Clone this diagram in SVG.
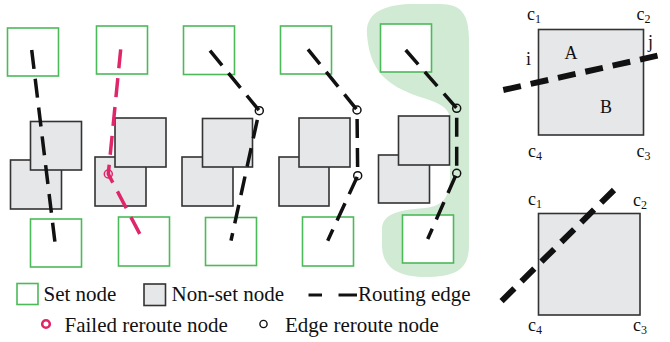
<svg xmlns="http://www.w3.org/2000/svg" width="670" height="342" viewBox="0 0 670 342">
<style>
.set{fill:#fff;stroke:#4dba5a;stroke-width:1.6}
.non{fill:#e6e7e8;stroke:#333;stroke-width:1.6}
.edge{fill:none;stroke:#111;stroke-width:3.5;stroke-dasharray:19 10}
.fail{fill:none;stroke:#e0266a;stroke-width:3.5;stroke-dasharray:19 10}
.rr{fill:none;stroke:#111;stroke-width:1.5}
.big{fill:none;stroke:#111;stroke-width:6;stroke-dasharray:18 10}
text{font-family:'Liberation Serif','Times New Roman',Times,serif;fill:#111}
.lg{font-size:21px}
.lb{font-size:18px}
.sub{font-size:12px}
</style>
<rect width="670" height="342" fill="#fff"/>
<g id="hull">
<path d="M367,35 C365,12 385,4 415,4 L440,4 C462,4 469,15 469,40 L469,245 C469,268 458,277 425,277 C395,277 382,265 382,245 L382,230 C382,215 395,210 425,208 C445,206 450,195 450,175 L450,120 C450,108 440,103 420,97 C385,85 370,70 367,35 Z" fill="#d0ead4"/>
</g>
<g id="panel1">
<rect id="p1-set-top" class="set" x="7.5" y="28" width="51" height="48"/>
<rect id="p1-non-back" class="non" x="10.5" y="160" width="51" height="49"/>
<rect id="p1-non-front" class="non" x="30.5" y="121.5" width="51" height="48.5"/>
<rect id="p1-set-bottom" class="set" x="30.5" y="219" width="51" height="48"/>
</g>
<g id="panel2">
<rect id="p2-set-top" class="set" x="96.5" y="26" width="51" height="48"/>
<rect id="p2-non-back" class="non" x="95" y="157" width="51" height="49"/>
<rect id="p2-non-front" class="non" x="115" y="118" width="51" height="49"/>
<rect id="p2-set-bottom" class="set" x="118.5" y="217" width="51" height="49"/>
</g>
<g id="panel3">
<rect id="p3-set-top" class="set" x="183.5" y="26" width="51" height="48.5"/>
<rect id="p3-non-back" class="non" x="182" y="157" width="51" height="49"/>
<rect id="p3-non-front" class="non" x="202.5" y="118.5" width="50" height="48.5"/>
<rect id="p3-set-bottom" class="set" x="205.5" y="217.5" width="51" height="48"/>
</g>
<g id="panel4">
<rect id="p4-set-top" class="set" x="280.5" y="26" width="51" height="48"/>
<rect id="p4-non-back" class="non" x="279" y="157" width="50" height="49"/>
<rect id="p4-non-front" class="non" x="299" y="118" width="51" height="49"/>
<rect id="p4-set-bottom" class="set" x="302.5" y="217" width="51" height="49"/>
</g>
<g id="panel5">
<rect id="p5-set-top" class="set" x="380.5" y="24" width="51" height="48"/>
<rect id="p5-non-back" class="non" x="378.5" y="155" width="51" height="48"/>
<rect id="p5-non-front" class="non" x="398.5" y="116" width="51" height="49"/>
<rect id="p5-set-bottom" class="set" x="402.5" y="215" width="51" height="48"/>
</g>
<g id="connectors">
<path class="edge" d="M31.7,50 L55,242.7"/>
<path class="fail" d="M120.7,49.3 L108.3,174 L143.3,240.7"/>
<circle cx="108.3" cy="174" r="4" fill="none" stroke="#e0266a" stroke-width="1.5"/>
<path class="edge" d="M210,50.7 L259.3,110.7 L231,240.7"/>
<circle class="rr" cx="259.3" cy="110.7" r="4"/>
<path class="edge" d="M308,49.3 L357,110 L357.7,175.7 L327.7,240.7"/>
<circle class="rr" cx="357" cy="110" r="4"/>
<circle class="rr" cx="357.7" cy="175.7" r="4"/>
<path class="edge" d="M405.7,50 L456.7,108.3 L456.7,173.3 L427.7,239"/>
<circle class="rr" cx="456.7" cy="108.3" r="4"/>
<circle class="rr" cx="456.7" cy="173.3" r="4"/>
</g>
<g id="cut-top">
<rect class="non" x="538.5" y="29.5" width="105" height="105.5"/>
<path class="big" d="M503.3,90 L665,54"/>
<text class="lb" x="527" y="20">c<tspan class="sub" dy="3">1</tspan></text>
<text class="lb" x="636.5" y="20">c<tspan class="sub" dy="3">2</tspan></text>
<text class="lb" x="528" y="157">c<tspan class="sub" dy="3">4</tspan></text>
<text class="lb" x="636.5" y="157">c<tspan class="sub" dy="3">3</tspan></text>
<text class="lb" x="526" y="65">i</text>
<text class="lb" x="648" y="48">j</text>
<text class="lb" x="564.5" y="58.5">A</text>
<text class="lb" x="600" y="112.5">B</text>
</g>
<g id="cut-bottom">
<rect class="non" x="538.5" y="213.5" width="101.5" height="101.5"/>
<path class="big" d="M614,190 L499.3,303.3"/>
<text class="lb" x="528" y="205">c<tspan class="sub" dy="3">1</tspan></text>
<text class="lb" x="633" y="206">c<tspan class="sub" dy="3">2</tspan></text>
<text class="lb" x="528" y="331">c<tspan class="sub" dy="3">4</tspan></text>
<text class="lb" x="633" y="331">c<tspan class="sub" dy="3">3</tspan></text>
</g>
<g id="legend">
<rect class="set" x="17" y="283.5" width="21" height="21"/>
<text class="lg" x="43.5" y="301">Set node</text>
<rect class="non" x="144" y="284" width="21.5" height="21.5"/>
<text class="lg" x="171.5" y="301">Non-set node</text>
<line x1="308.5" y1="295" x2="322" y2="295" stroke="#111" stroke-width="3"/>
<line x1="338.5" y1="295" x2="357" y2="295" stroke="#111" stroke-width="3"/>
<text class="lg" x="358" y="301">Routing edge</text>
<circle cx="46" cy="324" r="3.8" fill="none" stroke="#e0266a" stroke-width="2.6"/>
<text class="lg" x="64.5" y="331.5">Failed reroute node</text>
<circle cx="263.5" cy="324" r="3.6" fill="none" stroke="#111" stroke-width="1.4"/>
<text class="lg" x="285" y="331.5">Edge reroute node</text>
</g>
</svg>
